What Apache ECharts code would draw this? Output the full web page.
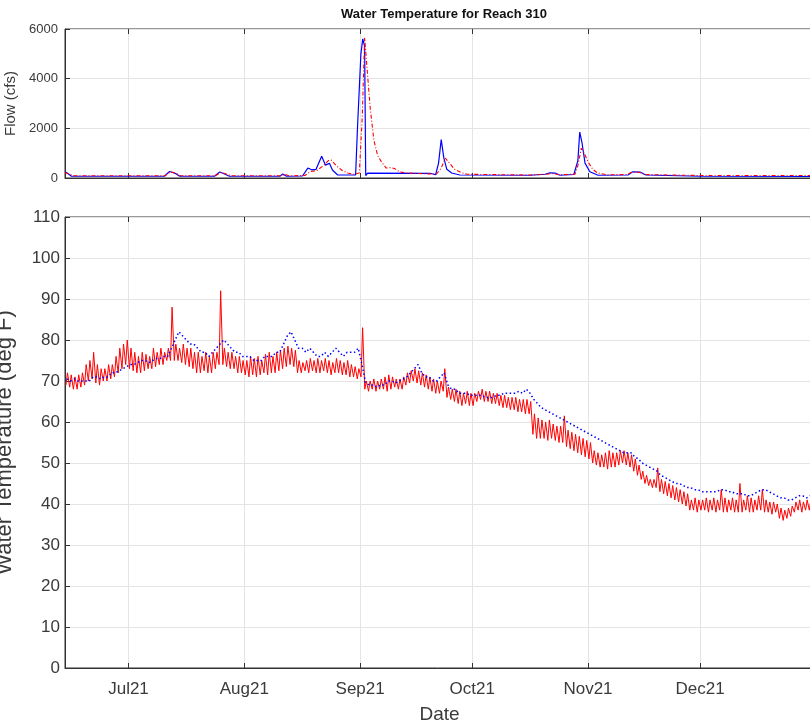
<!DOCTYPE html>
<html>
<head>
<meta charset="utf-8">
<script src="https://cdn.jsdelivr.net/npm/echarts@6/dist/echarts.min.js"></script>
<style>
  html, body { margin: 0; padding: 0; background: #fff; }
  #chart { width: 810px; height: 722px; }
</style>
</head>
<body>
<div id="chart"></div>
<script>
// ---- Time frame ----
const startDate = [2021, 5, 14];          // 14 Jun 2021, day 0 of the daily arrays
const endDate = [2021, 11, 31, 12];       // right edge of the time axis
const monthStarts = ['2021-07-01', '2021-08-01', '2021-09-01', '2021-10-01', '2021-11-01', '2021-12-01'];
const monthLabels = ['Jul21', 'Aug21', 'Sep21', 'Oct21', 'Nov21', 'Dec21'];
const flowTicks = [0, 2000, 4000, 6000];
const tempTicks = [0, 10, 20, 30, 40, 50, 60, 70, 80, 90, 100, 110];

// ---- Flow (cfs), blue trace: [time, value] ----
const flowBlueTimes = [
  '2021-06-14 00:00', '2021-06-14 14:00', '2021-06-15 17:00', '2021-07-10 14:00', '2021-07-12 00:00',
  '2021-07-12 12:00', '2021-07-13 14:00', '2021-07-14 17:00', '2021-07-24 00:00', '2021-07-25 10:00',
  '2021-07-26 10:00', '2021-07-28 00:00', '2021-08-10 12:00', '2021-08-11 07:00', '2021-08-12 07:00',
  '2021-08-16 14:00', '2021-08-18 00:00', '2021-08-19 00:00', '2021-08-20 05:00', '2021-08-21 17:00',
  '2021-08-22 17:00', '2021-08-23 19:00', '2021-08-24 14:00', '2021-08-26 00:00', '2021-08-30 19:00',
  '2021-08-31 07:00', '2021-09-01 05:00', '2021-09-01 17:00', '2021-09-02 05:00', '2021-09-02 12:00',
  '2021-09-03 00:00', '2021-09-19 17:00', '2021-09-21 05:00', '2021-09-22 00:00', '2021-09-22 17:00',
  '2021-09-23 10:00', '2021-09-24 05:00', '2021-09-25 12:00', '2021-09-27 17:00', '2021-10-16 12:00',
  '2021-10-20 12:00', '2021-10-21 19:00', '2021-10-23 05:00', '2021-10-24 12:00', '2021-10-28 05:00',
  '2021-10-29 07:00', '2021-10-29 19:00', '2021-10-30 10:00', '2021-10-31 05:00', '2021-11-01 12:00',
  '2021-11-03 17:00', '2021-11-11 17:00', '2021-11-13 00:00', '2021-11-14 22:00', '2021-11-16 12:00',
  '2021-12-01 00:00', '2021-12-31 12:00'
];
const flowBlueValues = [
  250, 200, 70, 70, 260,
  290, 180, 70, 70, 240,
  180, 70, 70, 160, 70,
  80, 400, 330, 350, 880,
  520, 590, 320, 120, 120,
  2000, 5000, 5600, 5300, 100,
  200, 190, 130, 600, 1550,
  800, 350, 200, 120, 110,
  150, 210, 200, 110, 140,
  700, 1850, 1400, 600, 250,
  110, 120, 250, 240, 120,
  70, 60
];

// ---- Flow (cfs), red trace ----
const flowRedTimes = [
  '2021-06-14 00:00', '2021-06-15 05:00', '2021-06-16 12:00', '2021-07-10 19:00', '2021-07-12 05:00',
  '2021-07-13 14:00', '2021-07-14 22:00', '2021-07-24 05:00', '2021-07-25 22:00', '2021-07-27 07:00',
  '2021-07-28 12:00', '2021-08-11 00:00', '2021-08-11 19:00', '2021-08-12 22:00', '2021-08-17 05:00',
  '2021-08-18 17:00', '2021-08-20 10:00', '2021-08-22 05:00', '2021-08-23 12:00', '2021-08-24 07:00',
  '2021-08-25 14:00', '2021-08-27 05:00', '2021-08-28 17:00', '2021-08-30 07:00', '2021-08-31 19:00',
  '2021-09-01 14:00', '2021-09-02 05:00', '2021-09-02 22:00', '2021-09-03 17:00', '2021-09-04 17:00',
  '2021-09-05 17:00', '2021-09-06 17:00', '2021-09-08 00:00', '2021-09-09 07:00', '2021-09-10 05:00',
  '2021-09-11 12:00', '2021-09-13 10:00', '2021-09-18 17:00', '2021-09-21 10:00', '2021-09-22 17:00',
  '2021-09-23 19:00', '2021-09-24 22:00', '2021-09-26 07:00', '2021-09-28 00:00', '2021-09-29 14:00',
  '2021-10-16 12:00', '2021-10-21 00:00', '2021-10-22 10:00', '2021-10-24 05:00', '2021-10-28 12:00',
  '2021-10-29 07:00', '2021-10-30 05:00', '2021-10-31 00:00', '2021-11-01 00:00', '2021-11-02 07:00',
  '2021-11-03 14:00', '2021-11-06 05:00', '2021-11-11 10:00', '2021-11-12 17:00', '2021-11-14 12:00',
  '2021-11-16 05:00', '2021-12-01 00:00', '2021-12-31 12:00'
];
const flowRedValues = [
  220, 150, 90, 90, 250,
  200, 90, 90, 230, 150,
  90, 90, 150, 90, 100,
  260, 300, 500, 700, 720,
  500, 300, 200, 150, 200,
  2500, 5650, 4300, 2800, 1500,
  900, 650, 400, 420, 380,
  250, 200, 170, 150, 400,
  800, 600, 350, 220, 150,
  120, 150, 180, 130, 150,
  500, 1200, 1000, 650, 350,
  200, 130, 140, 230, 240,
  140, 100, 100
];

// ---- Water temperature (deg F), red trace: daily low / high, 14 Jun .. 30 Dec ----
const tempRedLow = [
  69, 68.5, 68, 68, 68.5, 69, 70, 70.5, 69.5, 69,
  70, 70, 70.5, 71, 72, 73, 74, 73, 72.5, 72,
  72, 72.5, 73, 73, 73.5, 74, 74, 75, 75, 75,
  75, 74.5, 74, 73.5, 73, 72, 72, 72.5, 72, 72,
  73, 74, 74, 73.5, 73, 73, 72, 72, 71.5, 71,
  71.5, 71, 71.5, 72, 71.5, 72, 72, 72.5, 73, 73.5,
  74, 73.5, 72, 72, 72.5, 72, 72.5, 72, 72, 72.5,
  72, 71.5, 72, 72, 71.5, 71.5, 71, 71, 70.5, 71,
  68, 67.5, 68, 67.5, 68, 68, 67.5, 68, 68.5, 68,
  68, 69, 69.5, 70, 69.5, 69, 68.5, 68, 67.5, 67,
  67, 67.5, 66, 65.5, 65, 64.5, 64, 64.5, 64, 64,
  65, 65.5, 65, 65, 64.5, 64.5, 64, 63.5, 63.5, 63,
  63, 62.5, 62.5, 62, 62, 57, 56, 56, 56, 55.5,
  56, 55.5, 55, 55, 54, 53.5, 53, 52.5, 52, 51.5,
  51, 50, 49.5, 49, 49, 48.5, 49, 49, 49.5, 50,
  49.5, 49, 48, 47, 46, 45, 44.5, 44, 44, 43,
  42.5, 42, 41.5, 41, 40.5, 40, 39.5, 38.5, 38.5, 38,
  38.5, 38.5, 38, 38.5, 38, 38.5, 38, 38, 38.5, 38,
  38, 38, 38.5, 38, 38, 38.5, 38.5, 38, 38, 37.5,
  38, 36.5, 36, 36.5, 37, 38, 38.5, 38, 38.5, 38.5
];
const tempRedHigh = [
  72, 71.5, 71, 71.5, 72, 74, 75, 77, 74, 73,
  73, 74, 74, 76, 78, 79, 80, 78, 77, 76,
  77, 76.5, 76, 78, 77, 78, 77, 78, 88, 79,
  78, 79, 78, 78, 77, 77, 76, 77, 76, 77,
  77, 92, 78, 77, 77, 76, 76, 75, 75, 76,
  75.5, 76, 75, 76.5, 77, 76, 77, 77.5, 78, 78.5,
  78, 77.5, 75, 74.5, 75, 75.5, 75, 75.5, 75, 75.5,
  75, 74.5, 75.5, 75, 74.5, 75, 74, 73.5, 73, 83,
  70, 70, 70.5, 70, 70.5, 71, 71.5, 71, 70.5, 70.5,
  71, 72, 72.5, 73, 72.5, 72, 71.5, 71, 70.5, 70,
  70, 73, 68.5, 68, 68, 67.5, 67, 67.5, 67, 67,
  67.5, 68, 67.5, 67.5, 67, 67, 66.5, 66.5, 66, 66,
  66, 65.5, 65.5, 65.5, 65, 62, 61, 60.5, 60, 60.5,
  59.5, 59, 59, 61.5, 58, 57.5, 57, 56.5, 56, 55.5,
  55, 53, 52.5, 52, 52.5, 53, 52.5, 52.5, 53, 53,
  52.5, 52, 51, 49.5, 48, 47, 46, 46, 48.8, 46,
  45.5, 45, 44.5, 44, 43.5, 43, 42.5, 41, 41.5, 41,
  41, 41.5, 41, 41.5, 41, 43.5, 41.5, 41, 41.5, 41,
  45, 41, 42, 41.5, 41, 42, 43.5, 41, 40.5, 40.5,
  40, 39, 38.5, 39, 39.5, 40.5, 41, 40.5, 41, 41
];

// ---- Water temperature (deg F), blue trace: daily values ----
const tempBlue = [
  70.5, 70, 70.5, 70, 70, 70, 70, 71, 71, 70.5,
  71, 71, 72, 72, 72.5, 73, 73.5, 74, 74, 74.5,
  75, 75, 74.5, 75, 75.5, 75.5, 76, 76, 78, 80,
  82, 81, 80, 79, 79, 78, 77, 77, 76, 77,
  78, 79, 80, 79, 78, 77, 77, 76, 76, 76,
  75, 75, 75, 76, 76, 76, 77, 77, 79, 81,
  82, 80, 78, 78, 77, 78, 77, 76, 76, 77,
  76, 77, 78, 77, 76, 77, 77, 77, 78, 74,
  69.5, 69, 69, 68.5, 69, 69, 70, 70, 69.5, 70,
  70.5, 71, 72, 73, 74, 72, 71, 71, 70, 70,
  71, 72, 69, 68, 68, 67, 67, 67, 66.5, 66.5,
  66.5, 66.5, 66, 66, 66, 66.5, 66.5, 67, 67, 67,
  67, 67.5, 67, 68, 67, 65.5, 64.5, 63.5, 63, 62.5,
  62, 61.5, 61, 60.5, 60, 59.5, 59, 58.5, 58, 57.5,
  57, 56.5, 56, 55.5, 55, 54.5, 54, 53.5, 53, 52.5,
  52.5, 52.5, 51.5, 51, 50, 49.5, 49, 48.5, 48, 47,
  46.5, 46, 45.5, 45, 45, 44.5, 44, 44, 43.5, 43.5,
  43, 43, 43, 43, 43, 43.5, 43.5, 43, 43, 42.5,
  42.5, 42.5, 42, 42, 42.5, 43, 43.5, 43.5, 43, 42.5,
  42, 41.5, 41.5, 41, 41, 41.5, 42, 42, 41.5, 42
];

// ---- Build plotted series ----
function dayTime(i, hour) {
  return new Date(startDate[0], startDate[1], startDate[2] + i, hour).getTime();
}
function parseTime(s) {
  const [d, t] = s.split(' ');
  const [y, m, dd] = d.split('-').map(Number);
  const [hh, mm] = t.split(':').map(Number);
  return new Date(y, m - 1, dd, hh, mm).getTime();
}
function pairs(times, values) {
  return times.map((t, i) => [parseTime(t), values[i]]);
}
// red temperature: a low each morning, a high each afternoon
const tempRedData = [];
tempRedLow.forEach((lo, i) => {
  tempRedData.push([dayTime(i, 6), lo]);
  tempRedData.push([dayTime(i, 16), tempRedHigh[i]]);
});
const tempBlueData = tempBlue.map((v, i) => [dayTime(i, 12), v]);

const tMin = new Date(startDate[0], startDate[1], startDate[2]).getTime();
const tMax = new Date(endDate[0], endDate[1], endDate[2], endDate[3]).getTime();
const monthTimes = monthStarts.map(s => parseTime(s + ' 00:00'));

const FONT = '"Liberation Sans", Arial, Helvetica, sans-serif';
const AXIS_COLOR = '#333333';
const GRID_COLOR = '#e4e4e4';
const TEXT_COLOR = '#3a3a3a';

// time on a plain value axis (milliseconds), ticks at month starts
function timeAxis(gridIndex, showLabels) {
  return {
    type: 'value', gridIndex, min: tMin, max: tMax, scale: true, position: 'bottom',
    axisLine: { show: true, onZero: false, lineStyle: { color: AXIS_COLOR, width: 1 } },
    axisTick: { show: true, inside: true, length: 5, lineStyle: { color: AXIS_COLOR }, customValues: monthTimes },
    axisLabel: {
      show: showLabels, customValues: monthTimes, margin: 13,
      fontFamily: FONT, fontSize: 17, color: TEXT_COLOR,
      formatter: v => { const k = monthTimes.indexOf(v); return k >= 0 ? monthLabels[k] : ''; }
    },
    splitLine: { show: true, lineStyle: { color: GRID_COLOR, width: 1 } },
    name: showLabels ? 'Date' : '', nameLocation: 'middle', nameGap: 37,
    nameTextStyle: { fontFamily: FONT, fontSize: 19, color: TEXT_COLOR }
  };
}
function mirrorAxis(gridIndex) {
  return {
    type: 'value', gridIndex, min: tMin, max: tMax, scale: true, position: 'top',
    axisLine: { show: false, onZero: false },
    axisTick: { show: true, inside: true, length: 5, lineStyle: { color: AXIS_COLOR }, customValues: monthTimes },
    axisLabel: { show: false },
    splitLine: { show: false }
  };
}

const chart = echarts.init(document.getElementById('chart'), null, { renderer: 'canvas' });
chart.setOption({
  animation: false,
  backgroundColor: '#ffffff',
  title: {
    text: 'Water Temperature for Reach 310',
    left: 439, top: 3, textAlign: 'center',
    textStyle: { fontFamily: FONT, fontSize: 13, fontWeight: 'bold', color: '#111' }
  },
  grid: [
    { left: 65, right: -4, top: 29, height: 149, show: true, borderColor: AXIS_COLOR, borderWidth: 1,
      backgroundColor: 'transparent', containLabel: false, outerBoundsMode: 'none' },
    { left: 65, right: -4, top: 217, height: 451, show: true, borderColor: AXIS_COLOR, borderWidth: 1,
      backgroundColor: 'transparent', containLabel: false, outerBoundsMode: 'none' }
  ],
  xAxis: [timeAxis(0, false), timeAxis(1, true), mirrorAxis(0), mirrorAxis(1)],
  yAxis: [
    {
      type: 'value', gridIndex: 0, min: flowTicks[0], max: flowTicks[flowTicks.length - 1], interval: 2000,
      axisLine: { show: true, lineStyle: { color: AXIS_COLOR } },
      axisTick: { show: true, inside: true, length: 5, lineStyle: { color: AXIS_COLOR } },
      axisLabel: { fontFamily: FONT, fontSize: 13, color: TEXT_COLOR, margin: 7, formatter: v => String(v) },
      splitLine: { show: true, lineStyle: { color: GRID_COLOR } },
      name: 'Flow (cfs)', nameLocation: 'middle', nameGap: 33,
      nameTextStyle: { fontFamily: FONT, fontSize: 15, color: TEXT_COLOR }
    },
    {
      type: 'value', gridIndex: 1, min: tempTicks[0], max: tempTicks[tempTicks.length - 1], interval: 10,
      axisLine: { show: true, lineStyle: { color: AXIS_COLOR } },
      axisTick: { show: true, inside: true, length: 5, lineStyle: { color: AXIS_COLOR } },
      axisLabel: { fontFamily: FONT, fontSize: 17, color: TEXT_COLOR, margin: 5 },
      splitLine: { show: true, lineStyle: { color: GRID_COLOR } },
      name: 'Water Temperature (deg F)', nameLocation: 'middle', nameGap: 49,
      nameTextStyle: { fontFamily: FONT, fontSize: 22, color: TEXT_COLOR }
    }
  ],
  series: [
    {
      type: 'line', xAxisIndex: 0, yAxisIndex: 0, data: pairs(flowBlueTimes, flowBlueValues),
      showSymbol: false, lineStyle: { color: '#0000ff', width: 1.2 }, z: 3
    },
    {
      type: 'line', xAxisIndex: 0, yAxisIndex: 0, data: pairs(flowRedTimes, flowRedValues),
      showSymbol: false, lineStyle: { color: '#ff0000', width: 1.1, type: [4, 2, 1, 2] }, z: 4
    },
    {
      type: 'line', xAxisIndex: 1, yAxisIndex: 1, data: tempRedData,
      showSymbol: false, lineStyle: { color: '#ff0000', width: 1 }, z: 3
    },
    {
      type: 'line', xAxisIndex: 1, yAxisIndex: 1, data: tempBlueData,
      showSymbol: false, lineStyle: { color: '#0000ff', width: 1.5, type: [1.5, 2.5] }, z: 4
    }
  ]
});
</script>
</body>
</html>
